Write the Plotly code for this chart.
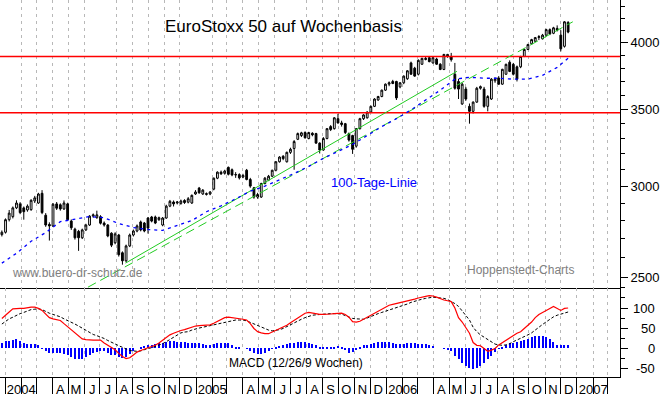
import pandas as pd
import plotly.graph_objects as go

# ---------------- data ----------------
week_dates = pd.date_range("2003-12-26", periods=156, freq="7D")

opens = [2722,2735,2805,2822,2872,2895,2872,2860,2862,2912,2900,2957,2830,2778,2770,2895,2890,2866,2895,2797,
         2752,2740,2705,2748,2775,2825,2816,2822,2786,2775,2730,2678,2720,2625,2583,2661,2720,2742,2792,2786,
         2814,2820,2820,2805,2775,2814,2882,2906,2900,2898,2915,2905,2900,2953,2988,2953,2950,2953,2982,3048,
         3085,3078,3115,3100,3068,3070,3055,3097,3040,2990,2935,2935,3016,3036,3060,3097,3150,3185,3150,3210,
         3235,3295,3320,3340,3300,3335,3333,3270,3225,3300,3380,3366,3434,3405,3400,3333,3320,3250,3366,3434,
         3440,3480,3520,3565,3590,3636,3680,3700,3700,3660,3690,3720,3840,3800,3754,3830,3875,3880,3840,3870,
         3830,3790,3890,3890,3754,3700,3537,3644,3520,3485,3550,3650,3644,3520,3572,3705,3725,3680,3754,3845,
         3829,3810,3810,3890,3945,3990,4010,4040,4030,4060,4105,4075,4115,4060,3970,4165]
highs = [2745,2812,2860,2880,2916,2905,2880,2892,2922,2942,2960,2976,2842,2790,2900,2906,2898,2915,2902,2806,
         2760,2748,2755,2782,2830,2840,2856,2830,2795,2780,2735,2735,2726,2632,2668,2728,2750,2778,2800,2792,
         2820,2826,2828,2822,2820,2890,2918,2915,2912,2920,2922,2935,2950,2976,2995,2982,2962,2970,3052,3090,
         3095,3100,3120,3108,3085,3078,3075,3105,3050,2995,2960,3020,3055,3068,3100,3155,3185,3192,3215,3240,
         3290,3340,3345,3348,3345,3342,3338,3275,3310,3370,3390,3445,3468,3420,3405,3340,3325,3370,3440,3465,
         3485,3525,3578,3595,3640,3685,3700,3712,3705,3695,3745,3785,3850,3810,3868,3880,3890,3890,3885,3880,
         3838,3910,3910,3918,3840,3720,3690,3660,3540,3555,3660,3670,3660,3600,3725,3730,3740,3795,3835,3860,
         3840,3820,3895,3950,3990,4030,4045,4060,4070,4112,4115,4128,4140,4100,4175,4175]
lows = [2712,2728,2795,2812,2865,2836,2805,2850,2855,2900,2895,2836,2765,2690,2765,2860,2856,2860,2798,2748,
        2695,2635,2698,2742,2770,2816,2810,2778,2766,2708,2655,2670,2605,2563,2575,2655,2712,2735,2740,2735,
        2728,2790,2780,2798,2768,2810,2876,2880,2892,2890,2895,2898,2895,2948,2955,2948,2944,2946,2975,3042,
        3068,3070,3065,3060,3050,3040,3048,3035,2990,2925,2925,2930,3010,3030,3055,3090,3145,3160,3145,3200,
        3100,3290,3310,3300,3295,3315,3265,3203,3220,3295,3350,3360,3400,3380,3330,3280,3200,3240,3360,3425,
        3435,3475,3515,3560,3585,3630,3665,3680,3565,3650,3680,3712,3750,3735,3745,3825,3860,3845,3835,3825,
        3785,3785,3880,3850,3640,3572,3530,3560,3400,3470,3545,3640,3510,3485,3565,3690,3675,3675,3750,3770,
        3745,3700,3800,3885,3940,3985,4005,4020,4025,4050,4060,4068,4090,3930,3960,4075]
closes = [2735,2805,2842,2872,2900,2845,2850,2882,2916,2930,2953,2845,2775,2770,2893,2870,2866,2900,2805,2760,
          2705,2705,2748,2775,2825,2832,2832,2785,2775,2715,2665,2726,2615,2583,2661,2720,2742,2770,2748,2742,
          2758,2797,2786,2816,2814,2882,2910,2895,2906,2912,2903,2925,2945,2965,2960,2976,2955,2965,3048,3085,
          3075,3092,3072,3068,3070,3050,3065,3040,3000,2935,2950,3016,3048,3060,3097,3150,3180,3170,3210,3230,
          3280,3333,3338,3305,3340,3325,3270,3225,3300,3366,3360,3440,3405,3395,3340,3290,3230,3366,3434,3460,
          3480,3520,3572,3590,3636,3680,3690,3685,3580,3690,3740,3780,3754,3740,3860,3875,3868,3850,3880,3830,
          3790,3906,3906,3865,3650,3644,3680,3572,3485,3550,3650,3662,3520,3590,3717,3717,3680,3791,3829,3775,
          3754,3717,3890,3945,3984,4024,4040,4048,4060,4105,4070,4120,4100,3950,4170,4085]

# 100-Tage-Linie, read every 4th week (plus the last week)
ma_week_index = list(range(0, 156, 4)) + [155]
ma_values = [2571,2622,2686,2733,2794,2810,2822,2816,2783,2761,2750,2745,2772,2800,2850,2884,2924,2970,3000,3036,
             3077,3121,3172,3216,3261,3320,3380,3434,3495,3565,3636,3717,3731,3724,3724,3717,3717,3746,3806,3876]

# horizontal resistance / support lines
level_lines = [3890, 3475]

# trend lines (start date, start value, end date, end value)
trend_upper = [("2004-08-19", 2571), ("2006-05-16", 3776)]
trend_lower = [("2004-06-08", 2450), ("2006-12-24", 4170)]

macd = [74,81,90,98,99,99,99,101,102,102,99,94,85,76,73,71,69,61,53,46,
        37,31,23,21,20,20,20,20,13,7,2,-4,-13,-21,-26,-24,-17,-10,-6,-2,
        1,4,7,13,20,28,33,37,41,44,46,49,52,55,56,57,57,58,62,67,
        71,76,77,76,74,73,72,70,61,49,41,38,36,36,40,44,48,53,57,63,
        69,75,81,87,89,87,85,84,84,84,85,86,87,87,84,77,66,65,67,72,
        77,83,88,93,98,102,107,109,111,113,115,117,120,122,125,128,129,131,130,127,
        123,120,118,116,100,76,65,52,37,14,7,6,-1,-8,-5,-1,8,14,18,25,
        32,37,41,49,56,65,76,84,89,93,99,104,99,94,99,100]
signal = [60,67,73,77,82,86,89,93,96,97,98,96,91,87,84,81,78,73,69,64,
          60,55,50,44,38,34,31,28,24,19,14,10,6,2,-2,-6,-7,-8,-7,-3,
          -1,1,4,7,11,16,21,27,32,38,40,41,45,48,50,52,54,57,59,61,
          63,65,67,69,70,70,70,68,64,61,56,51,48,45,43,44,46,49,54,58,
          63,67,72,76,79,82,83,84,85,86,86,86,86,85,81,77,74,73,72,72,
          75,79,83,86,89,92,94,97,100,103,107,110,114,117,120,122,124,126,127,126,
          125,124,121,117,111,104,93,83,70,52,41,33,27,20,15,10,8,7,8,11,
          16,20,23,28,33,38,44,52,59,66,72,78,82,85,88,90]
hist = [14,17,19,21,22,18,14,11,11,10,7,-1,-8,-12,-13,-12,-12,-14,-18,-23,
        -26,-28,-27,-22,-17,-12,-9,-7,-8,-12,-16,-18,-21,-25,-21,-14,-6,0,4,6,
        7,9,11,12,14,16,18,17,16,15,15,14,14,14,12,10,8,9,11,12,
        14,14,12,7,4,1,0,-2,-7,-12,-15,-15,-12,-7,-2,2,5,8,10,12,
        14,15,16,16,14,11,7,4,2,2,2,4,6,3,-5,-11,-10,-4,2,7,
        9,10,13,15,16,16,15,13,10,11,11,12,13,12,11,11,10,8,5,0,
        0,-1,-3,-8,-20,-27,-36,-45,-50,-53,-50,-44,-37,-28,-20,-10,-2,4,7,12,
        14,15,17,20,24,28,30,31,30,28,22,15,8,9,9,7]

price_ticks = [2500, 3000, 3500, 4000]
price_minor = [v for v in range(2500, 4400, 100) if v not in price_ticks]
macd_ticks = [100, 50, 0, -50]

years = [2004, 2005, 2006, 2007]
month_letters = ["A", "M", "J", "J", "A", "S", "O", "N", "D"]

# ---------------- figure ----------------
FONT = "Liberation Sans, Arial, sans-serif"
x_range = ["2003-12-22 10:00", "2007-03-24 10:00"]
W, H, R, B = 660, 397, 40, 16
plot_h = H - B
split_px = 291
main_dom = [1 - split_px / plot_h, 1]
macd_dom = [0, 1 - split_px / plot_h]

fig = go.Figure()

for lv in level_lines:
    fig.add_trace(go.Scatter(x=x_range, y=[lv, lv], mode="lines",
                             line=dict(color="#ff0000", width=1.6),
                             hoverinfo="skip", showlegend=False, xaxis="x", yaxis="y"))

fig.add_trace(go.Scatter(x=[p[0] for p in trend_upper], y=[p[1] for p in trend_upper], mode="lines",
                         line=dict(color="#22cc22", width=1), showlegend=False, xaxis="x", yaxis="y"))
fig.add_trace(go.Scatter(x=[p[0] for p in trend_lower], y=[p[1] for p in trend_lower], mode="lines",
                         line=dict(color="#22cc22", width=1, dash="9px,5px"), showlegend=False,
                         xaxis="x", yaxis="y"))

fig.add_trace(go.Scatter(x=[week_dates[i] for i in ma_week_index], y=ma_values, mode="lines",
                         line=dict(color="#0000ff", width=1.3, dash="3px,4px"), showlegend=False,
                         xaxis="x", yaxis="y"))

fig.add_trace(go.Candlestick(x=week_dates, open=opens, high=highs, low=lows, close=closes,
                             increasing=dict(line=dict(color="black", width=1), fillcolor="white"),
                             decreasing=dict(line=dict(color="black", width=1), fillcolor="black"),
                             whiskerwidth=0, showlegend=False, xaxis="x", yaxis="y"))

fig.add_trace(go.Bar(x=week_dates, y=hist, marker=dict(color="#0000ff", line=dict(width=0)),
                     width=2.0 * 86400000, showlegend=False, xaxis="x2", yaxis="y2"))
fig.add_trace(go.Scatter(x=week_dates, y=signal, mode="lines",
                         line=dict(color="black", width=1, dash="3px,2px"), showlegend=False,
                         xaxis="x2", yaxis="y2"))
fig.add_trace(go.Scatter(x=week_dates, y=macd, mode="lines",
                         line=dict(color="#ff0000", width=1.2), showlegend=False,
                         xaxis="x2", yaxis="y2"))

tickvals, ticktext = [], []
for y in years:
    tickvals.append(f"{y}-02-01")
    ticktext.append(str(y))
    if y < 2007:
        for k, letter in enumerate(month_letters):
            m = k + 4
            tickvals.append(f"{y}-{m:02d}-16")
            ticktext.append(letter)

minor_grid = dict(dtick="M1", tick0="2004-01-01", showgrid=True, gridcolor="#b8b8b8",
                  griddash="3px,4px", gridwidth=1)

fig.update_layout(
    width=W, height=H, margin=dict(l=0, r=R, t=0, b=B),
    paper_bgcolor="white", plot_bgcolor="white",
    font=dict(family=FONT, color="black", size=13),
    bargap=0, showlegend=False,
    xaxis=dict(domain=[0, 1], anchor="y", type="date", range=x_range, showticklabels=False,
               ticks="", showgrid=False, zeroline=False, showline=True, linecolor="black", linewidth=1,
               minor=dict(**minor_grid, ticks=""), rangeslider=dict(visible=False)),
    xaxis2=dict(domain=[0, 1], anchor="y2", type="date", range=x_range, matches="x",
                tickmode="array", tickvals=tickvals, ticktext=ticktext, ticks="", ticklen=0,
                tickfont=dict(size=13, family=FONT, color="black"),
                showgrid=False, zeroline=False, showline=True, linecolor="black", linewidth=1,
                minor=dict(**minor_grid, ticks="outside", ticklen=16, tickcolor="black", tickwidth=1),
                rangeslider=dict(visible=False)),
    yaxis=dict(domain=main_dom, anchor="x", side="right", type="log",
               range=[3.3885, 3.6391], tickmode="array", tickvals=price_ticks,
               ticktext=[str(v) for v in price_ticks], ticks="outside", ticklen=7, tickcolor="black",
               tickfont=dict(size=13, family=FONT, color="black"),
               showline=True, linecolor="black", linewidth=1, showgrid=False, zeroline=False,
               minor=dict(tickmode="array", tickvals=price_minor, ticks="outside", ticklen=4,
                          tickcolor="black", showgrid=False)),
    yaxis2=dict(domain=macd_dom, anchor="x2", side="right", range=[-72, 150],
                tickmode="array", tickvals=macd_ticks, showticklabels=False,
                ticks="outside", ticklen=7, tickcolor="black",
                showline=True, linecolor="black", linewidth=1, showgrid=False, zeroline=False,
                minor=dict(dtick=25, ticks="outside", ticklen=4, tickcolor="black", showgrid=False)),
)

def px_x(x):
    return x / (W - R)

def px_y(y):
    return (plot_h - y) / plot_h

annos = [
    dict(text="EuroStoxx 50 auf Wochenbasis", x=px_x(283), y=px_y(27), size=17, color="black"),
    dict(text="www.buero-dr-schutz.de", x=px_x(77.5), y=px_y(276), size=12, color="#808080"),
    dict(text="Hoppenstedt-Charts", x=px_x(520), y=px_y(272.5), size=12, color="#808080"),
    dict(text="100-Tage-Linie", x=px_x(374), y=px_y(184), size=13, color="#0000ff"),
    dict(text="MACD (12/26/9 Wochen)", x=px_x(296), y=px_y(367), size=12, color="black"),
]
for a in annos:
    fig.add_annotation(text=a["text"], x=a["x"], y=a["y"], xref="paper", yref="paper",
                       xanchor="center", yanchor="middle", showarrow=False,
                       font=dict(size=a["size"], color=a["color"], family=FONT))

for v in macd_ticks:
    fig.add_annotation(text=str(v), x=px_x(657), y=v, xref="paper", yref="y2",
                       xanchor="right", yanchor="middle", showarrow=False,
                       font=dict(size=13, color="black", family=FONT))

fig.write_html("out.html", config={"displayModeBar": False},
               post_script="document.body.style.margin='0px';document.body.style.overflow='hidden';")
